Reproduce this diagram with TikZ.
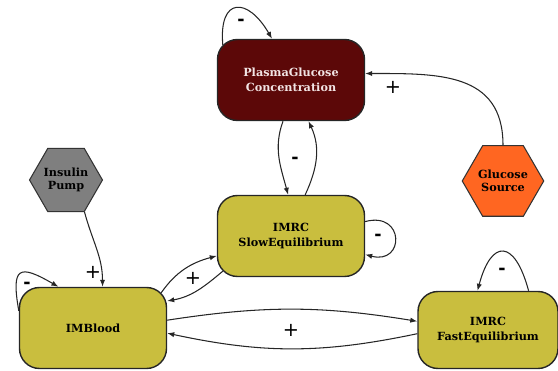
\documentclass[tikz,border=0pt]{standalone}
\usepackage{fontspec}
\setmainfont{DejaVu Serif}
\newfontfamily\signfont{DejaVu Sans}
\usepackage{xcolor}
\usepackage{tikz}
\usetikzlibrary{shapes,arrows.meta,positioning}

\definecolor{plasmared}{HTML}{5C0808}
\definecolor{plasmatext}{HTML}{F2E4E4}
\definecolor{imolive}{HTML}{C9BE3E}
\definecolor{pumpgray}{HTML}{7F7F7F}
\definecolor{glucoseorange}{HTML}{FF6621}

\begin{document}
\begin{tikzpicture}[
    stock/.style={draw=black!85, line width=0.8pt, rounded corners=0.4cm, minimum width=2.94cm, minimum height=1.62cm, align=center, font=\bfseries\fontsize{6.4}{8.4}\selectfont},
    hexa/.style={regular polygon, regular polygon sides=6, draw=black!80, line width=0.6pt, minimum size=1.36cm, inner sep=0pt, align=center, font=\bfseries\fontsize{6.4}{7.6}\selectfont},
    link/.style={draw=black!85, line width=0.6pt, -{Latex[length=4pt,width=3pt]}},
    possign/.style={font=\signfont\fontsize{11}{11}\selectfont},
    negsign/.style={font=\signfont\bfseries\fontsize{10}{10}\selectfont}
  ]
    \useasboundingbox (0,0) rectangle (11.16,7.42);

    % Stocks
    \node[stock, fill=plasmared, text=plasmatext] (pg) at (5.82,5.82) {PlasmaGlucose\\Concentration};
    \node[stock, fill=imolive] (slow) at (5.82,2.70) {IMRC\\SlowEquilibrium};
    \node[stock, fill=imolive] (blood) at (1.86,0.86) {IMBlood};
    \node[stock, fill=imolive, minimum width=2.8cm, minimum height=1.54cm] (fast) at (9.76,0.82) {IMRC\\FastEquilibrium};

    % Sources
    \node[hexa, fill=pumpgray] (pump) at (1.32,3.82) {Insulin\\Pump};
    \node[hexa, fill=glucoseorange] (gsource) at (10.06,3.80) {Glucose\\Source};

    % Plasma glucose links
    \draw[link] ([shift={(0.12,-0.12)}]pg.north west) to[out=95,in=120,looseness=2.5] ([xshift=-0.38cm]pg.north);
    \node[negsign] (pgself) at (4.82,6.98) {-};
    \draw[link] (gsource.north) to[out=90,in=0,looseness=1.2] (pg.5);
    \node[possign] (gsign) at (7.86,5.68) {+};
    \draw[link] (pg.259) to[out=250,in=105] (slow.94);
    \draw[link] (slow.71) to[out=65,in=-65] (pg.293);
    \node[negsign] (pgslow) at (5.90,4.22) {-};

    % Slow equilibrium
    \draw[link] (slow.11) to[out=15,in=-15,looseness=3.2] (slow.-14);
    \node[negsign] (slowself) at (7.56,2.68) {-};
    \draw[link] ([shift={(-0.12,-0.12)}]blood.north east) to[out=55,in=195] (slow.195);
    \draw[link] ([shift={(0.12,0.12)}]slow.south west) to[out=220,in=10] (blood.20);
    \node[possign] (bloodslow) at (3.86,1.86) {+};

    % Blood
    \draw[link] (pump.300) to[out=-75,in=90] (blood.77);
    \node[possign] (pumpsign) at (1.86,1.98) {+};
    \draw[link] (blood.167) to[out=100,in=150,looseness=2.5] (blood.130);
    \node[negsign] (bloodself) at (0.54,1.72) {-};
    \draw[link] (blood.6) to[bend left=9] (fast.173);
    \draw[link] (fast.183) to[bend left=12] (blood.-4);
    \node[possign] (bloodfast) at (5.82,0.82) {+};

    % Fast equilibrium
    \draw[link] (fast.44) to[out=105,in=75,looseness=2.7] (fast.105);
    \node[negsign] (fastself) at (10.04,2.00) {-};
\end{tikzpicture}
\end{document}
